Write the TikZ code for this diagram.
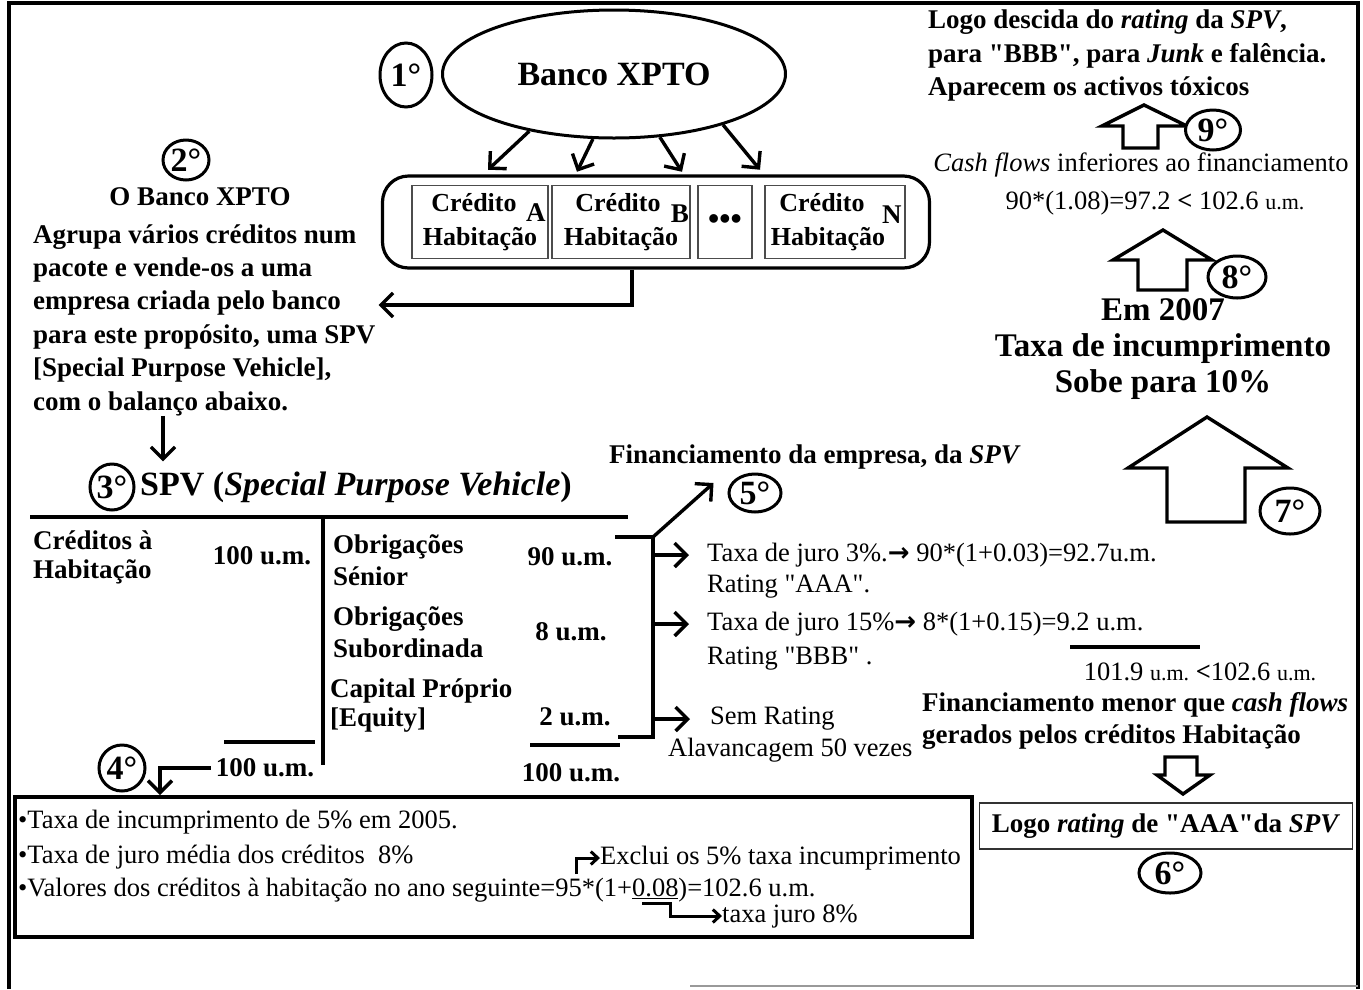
\documentclass[tikz,border=0pt]{standalone}
\usepackage{fontspec}
\setmainfont{Liberation Serif}[Ligatures=TeXOff]
\newfontfamily\simbolos{DejaVu Sans}
\usetikzlibrary{arrows.meta,shapes.geometric,calc}
\newcommand{\seta}{{\simbolos\bfseries\fontsize{26}{26}\selectfont →}}
\newcommand{\um}{{\fontsize{22}{22}\selectfont u.m.}}

\begin{document}
\begin{tikzpicture}[x=1pt,y=-1pt,
  negrito/.style={font=\fontsize{27}{32}\selectfont\bfseries, inner sep=0pt},
  normal/.style={font=\fontsize{26.5}{32}\selectfont, inner sep=0pt},
  circulo/.style={draw, ellipse, line width=3pt, inner sep=0pt, fill=white,
                  font=\fontsize{34}{34}\selectfont\bfseries},
  caixa/.style={draw=black!70, line width=1.5pt, align=center, inner sep=0pt,
                font=\fontsize{26}{34}\selectfont\bfseries},
  flecha/.style={-{Straight Barb[length=12pt,width=24pt]}, line width=3.4pt},
  flechaP/.style={-{Straight Barb[length=7pt,width=13pt]}, line width=3pt},
  bloco/.style={draw, line width=3.4pt, line join=miter},
  traco/.style={line width=3.6pt}]
\useasboundingbox (0,0) rectangle (1363,989);
% moldura
\draw[line width=4.5pt] (9,989) -- (9,3) -- (1358,3) -- (1358,989);
\draw[black!40, line width=1.5pt] (690,986) -- (1358,986);

% 1 banco e pacote de creditos
\node[draw, ellipse, line width=3pt, minimum width=343pt, minimum height=128pt,
      font=\fontsize{34}{34}\selectfont\bfseries] (banco) at (614,74) {Banco XPTO};
\node[circulo, minimum width=52pt, minimum height=64pt] (c1) at (406,75) {1°};
\node[draw, line width=3.2pt, rounded corners=26pt, minimum width=547pt,
      minimum height=92pt] (pacote) at (656,222) {};
\node[caixa, minimum width=136pt, minimum height=73pt] (credA) at (480,222) {Crédito\hspace*{12pt}\\Habitação};
\node[caixa, minimum width=138pt, minimum height=73pt] (credB) at (621,222) {Crédito\hspace*{6pt}\\Habitação};
\node[caixa, minimum width=54pt, minimum height=73pt, font=\fontsize{32}{32}\selectfont\bfseries] (pontos) at (725,222) {•••};
\node[caixa, minimum width=140pt, minimum height=73pt] (credN) at (835,222) {Crédito\hspace*{26pt}\\Habitação\hspace*{14pt}};
\node[negrito] (letraA) at ($(credA.east)+(-13,-9)$) {A};
\node[negrito] (letraB) at ($(credB.east)+(-11,-8)$) {B};
\node[negrito] (letraN) at ($(credN.east)+(-14,-7)$) {N};
\draw[flecha] (banco.214) -- ($(credA.north)+(8,-15)$);
\draw[flecha] (banco.252) -- ($(credB.north)+(-44,-13)$);
\draw[flecha] (banco.306) -- ($(pontos.north)+(-43,-13)$);
\draw[flecha] (banco.335) -- ($(credN.north)+(-75,-15)$);

% 2
\node[circulo, minimum width=46pt, minimum height=40pt] (c2) at (186,160) {2°};
\node[negrito] (banco2) at (200,197) {O Banco XPTO};
\node[negrito, align=left, anchor=west, font=\fontsize{27}{33.4}\selectfont\bfseries] (texto2) at (33,320)
  {Agrupa vários créditos num\\pacote e vende-os a uma\\empresa criada pelo banco\\para este propósito, uma SPV\\{}[Special Purpose Vehicle],\\com o balanço abaixo.};
\draw[flecha] ($(pacote.south)+(-24,0)$) |- ($(texto2.east)+(3,-15)$);

% 3 balanco da SPV
\node[circulo, minimum width=44pt, minimum height=46pt] (c3) at (112,487) {3°};
\node[negrito, anchor=west, font=\fontsize{34}{34}\selectfont\bfseries] (titulo3) at (140,487)
  {SPV (\textit{Special Purpose Vehicle})};
\draw[flecha, shorten >=10pt] ([xshift=130pt]texto2.south west) -- ([xshift=130pt]texto2.south west |- titulo3.north);
\draw[traco] (30,517) -- (628,517);
\draw[traco] (323,517) -- (323,765);
\node[negrito, align=left, anchor=west, font=\fontsize{27}{29}\selectfont\bfseries] (activo) at (33,557) {Créditos à\\Habitação};
\node[negrito] (v100) at (262,556) {100 u.m.};
\node[negrito, align=left, anchor=west] (senior) at (333,560) {Obrigações\\Sénior};
\node[negrito] (v90) at (570,557) {90 u.m.};
\node[negrito, align=left, anchor=west] (subord) at (333,632) {Obrigações\\Subordinada};
\node[negrito] (v8) at (571,632) {8 u.m.};
\node[negrito, align=left, anchor=west, font=\fontsize{27}{29}\selectfont\bfseries] (equity) at (330,706) {Capital Próprio\\{}[Equity]};
\node[negrito] (v2) at (575,717) {2 u.m.};
\draw[traco] (224,742) -- (315,742);
\node[negrito] (tot1) at (265,768) {100 u.m.};
\draw[traco] (530,745) -- (620,745);
\node[negrito] (tot2) at (571,773) {100 u.m.};

% 5 financiamento
\coordinate (brTop) at (653,537);
\coordinate (brBot) at (653,737);
\draw[traco] (615,537) -- (brTop) -- (brBot) -- (618,737);
\node[negrito] (fin5) at (815,457) {Financiamento da empresa, da \textit{SPV}};
\node[circulo, minimum width=52pt, minimum height=38pt] (c5) at (755,493) {5°};
\draw[flecha] (brTop) -- ($(c5.west)+(-14,-10)$);
\node[normal, anchor=west] (juro3) at (707,555) {Taxa de juro 3\%.\seta\ 90*(1+0.03)=92.7u.m.};
\node[normal, anchor=west] (aaa) at (707,587) {Rating "AAA".};
\node[normal, anchor=west] (juro15) at (707,624) {Taxa de juro 15\%\seta\ 8*(1+0.15)=9.2 u.m.};
\node[normal, anchor=west] (bbb) at (707,659) {Rating "BBB" .};
\node[normal, anchor=west] (semrat) at (710,719) {Sem Rating};
\node[normal, anchor=west] (alav) at (668,750) {Alavancagem 50 vezes};
\draw[flecha, shorten >=18pt] (brTop |- juro3) -- (juro3.west);
\draw[flecha, shorten >=18pt] (brTop |- juro15) -- (juro15.west);
\draw[flecha, shorten >=20pt] (brTop |- semrat) -- (semrat.west);
\draw[traco] (1070,647) -- (1200,647);
\node[normal] (soma) at (1200,672) {101.9 \um\ {\bfseries <}102.6 \um};

% 6
\node[negrito, align=left, anchor=west] (menor) at (922,721)
  {Financiamento menor que \textit{cash flows}\\gerados pelos créditos Habitação};
\draw[bloco] (1183,794) -- (1210,775) -- (1197,775) -- (1197,757) -- (1165,757) -- (1165,775) -- (1157,775) -- cycle;
\node[caixa, draw=black!80, minimum width=373pt, minimum height=46pt, font=\fontsize{27}{27}\selectfont\bfseries] (aaa6) at (1166,826)
  {Logo \textit{rating} de "AAA"da \textit{SPV}};
\node[circulo, minimum width=62pt, minimum height=40pt] (c6) at (1170,873) {6°};

% 7 e 8
\draw[bloco] (1207,417) -- (1288,468) -- (1245,468) -- (1245,522) -- (1167,522) -- (1167,468) -- (1128,468) -- cycle;
\node[circulo, minimum width=60pt, minimum height=46pt] (c7) at (1290,511) {7°};
\node[negrito, align=center, font=\fontsize{33}{36}\selectfont\bfseries] (taxa10) at (1163,349)
  {Em 2007\\Taxa de incumprimento\\Sobe para 10\%};
\draw[bloco] (1163,230) -- (1212,260) -- (1187,260) -- (1187,290) -- (1138,290) -- (1138,260) -- (1113,260) -- cycle;
\node[circulo, minimum width=58pt, minimum height=42pt] (c8) at (1237,277) {8°};

% 9
\node[normal] (cash) at (1141,165) {\textit{Cash flows} inferiores ao financiamento};
\node[normal] (calc9) at (1155,203) {90*(1.08)=97.2 {\bfseries <} 102.6 \um};
\draw[bloco] (1144,105) -- (1187,126) -- (1158,126) -- (1158,148) -- (1123,148) -- (1123,126) -- (1102,126) -- cycle;
\node[circulo, minimum width=55pt, minimum height=40pt] (c9) at (1213,130) {9°};
\node[negrito, align=left, anchor=west, font=\fontsize{27}{33.5}\selectfont\bfseries] (logo9) at (928,56)
  {Logo descida do \textit{rating} da \textit{SPV},\\para "BBB", para \textit{Junk} e falência.\\Aparecem os activos tóxicos};

% 4 pressupostos
\node[draw, line width=4pt, minimum width=957pt, minimum height=140pt, inner sep=0pt] (caixa4) at (493.5,867) {};
\node[circulo, minimum width=46pt, minimum height=46pt] (c4) at (122,768) {4°};
\draw[flecha] ([xshift=-5pt]tot1.west) -| ($(caixa4.north west)+(147,0)$);
\node[normal, anchor=west] (b1) at (18,822) {•Taxa de incumprimento de 5\% em 2005.};
\node[normal, anchor=west] (b2) at (18,857) {•Taxa de juro média dos créditos\ \ 8\%};
\node[normal, anchor=west] (b3) at (18,890) {•Valores dos créditos à habitação no ano seguinte=95*(1+\underline{0.08})=102.6 u.m.};
\node[normal, anchor=west] (exclui) at (600,858) {Exclui os 5\% taxa incumprimento};
\node[normal, anchor=west] (juro8) at (722,916) {taxa juro 8\%};
\draw[flechaP] ($(exclui.west)+(-24,16)$) |- (exclui.west);
\draw[flechaP] ($(juro8.west)+(-80,-13)$) -- ++(28,0) |- (juro8.west);
\end{tikzpicture}
\end{document}
